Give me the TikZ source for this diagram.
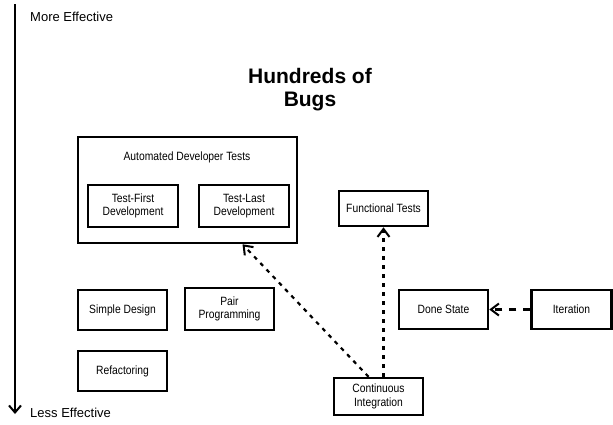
\documentclass[tikz,border=0pt]{standalone}
\usepackage{fontspec}
\setmainfont{Liberation Sans}
\newfontfamily\narrowfont[FakeStretch=0.86]{Liberation Sans}
\usetikzlibrary{arrows.meta}
\begin{document}
\begin{tikzpicture}[x=1pt,y=-1pt,
  box/.style={draw, line width=2.5pt, align=center, inner sep=1pt, font=\narrowfont\fontsize{12}{13.5}\selectfont},
  lbl/.style={font=\fontsize{13}{15}\selectfont, inner sep=0pt, anchor=base west},
  dep/.style={line width=2.2pt, dash pattern=on 4pt off 5pt, -{Straight Barb[length=8pt,width=12pt,line width=2pt]}},
  dep2/.style={line width=2.2pt, dash pattern=on 7pt off 7pt, -{Straight Barb[length=8pt,width=12pt,line width=2pt]}}]
\useasboundingbox (0,0) rectangle (613,424);
% axis
\coordinate (axtop) at (15,4);
\coordinate (axbot) at (15,414);
\draw[line width=2.2pt, -{Straight Barb[length=7pt,width=12pt,line width=2pt]}] (axtop) -- (axbot);
\node[lbl] (more) at (30,21) {More Effective};
\node[lbl] (less) at (30,417) {Less Effective};
% title
\node[font=\bfseries\fontsize{21}{23}\selectfont, align=center] (title) at (310,90) {Hundreds of\\Bugs};
% boxes
\node[box, minimum width=219, minimum height=106] (auto) at (187.5,190) {};
\node[box, draw=none, anchor=center] (autolbl) at (187,157) {Automated Developer Tests};
\node[box, minimum width=90, minimum height=42] (tf) at (133,206) {Test-First\\Development};
\node[box, minimum width=90, minimum height=42] (tl) at (244,206) {Test-Last\\Development};
\node[box, minimum width=89, minimum height=35] (ft) at (383.5,208.5) {Functional Tests};
\node[box, minimum width=89, minimum height=40] (sd) at (122.5,310) {Simple Design};
\node[box, minimum width=89, minimum height=42] (pp) at (229.5,309) {Pair\\Programming};
\node[box, minimum width=89, minimum height=40] (rf) at (122.5,371) {Refactoring};
\node[box, minimum width=89, minimum height=37] (ci) at (378.5,396.5) {Continuous\\Integration};
\node[box, minimum width=89, minimum height=39] (ds) at (443.5,309.5) {Done State};
\node[box, minimum width=80, minimum height=39] (it) at (571.5,309.5) {Iteration};
% connectors
\draw[dep] ([xshift=-10pt]ci.north) -- ([xshift=55pt]auto.south);
\draw[dep] (ci.north -| ft.south) -- (ft.south);
\draw[dep2] (it.west) -- (ds.east);
\end{tikzpicture}
\end{document}
